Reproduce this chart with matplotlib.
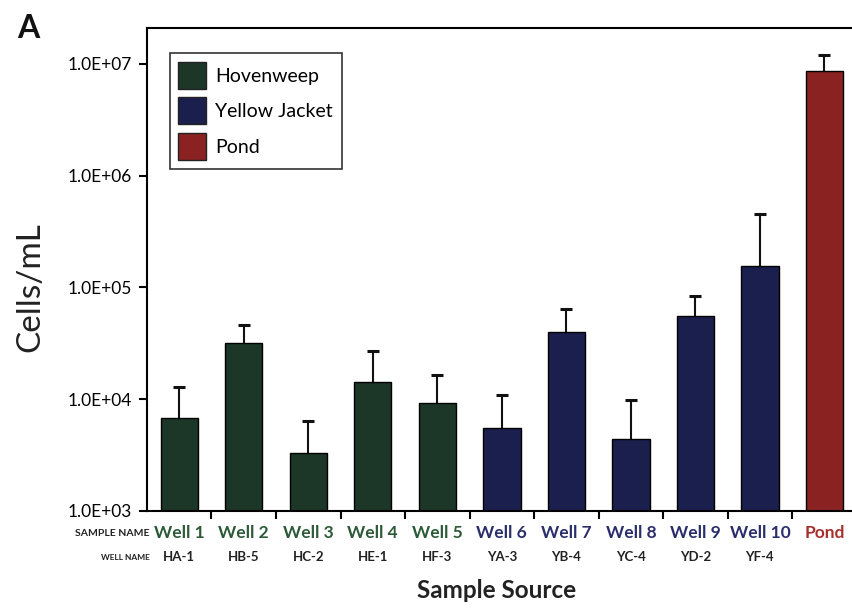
import numpy as np
import matplotlib.pyplot as plt
from matplotlib.patches import Patch
import matplotlib.transforms as mtransforms

plt.rcParams['font.family'] = ['Lato', 'DejaVu Sans']

# data
sample_names = ['Well 1', 'Well 2', 'Well 3', 'Well 4', 'Well 5', 'Well 6',
                'Well 7', 'Well 8', 'Well 9', 'Well 10', 'Pond']
well_names = ['HA-1', 'HB-5', 'HC-2', 'HE-1', 'HF-3', 'YA-3',
              'YB-4', 'YC-4', 'YD-2', 'YF-4', '']
groups = ['Hovenweep'] * 5 + ['Yellow Jacket'] * 5 + ['Pond']
cells = [6.7e3, 3.15e4, 3.3e3, 1.41e4, 9.3e3, 5.5e3,
         3.96e4, 4.36e3, 5.5e4, 1.54e5, 8.7e6]
err_top = [1.29e4, 4.57e4, 6.35e3, 2.71e4, 1.64e4, 1.09e4,
           6.35e4, 9.9e3, 8.4e4, 4.53e5, 1.2e7]

bar_col = {'Hovenweep': '#1c3627', 'Yellow Jacket': '#1b1f4d', 'Pond': '#8a2222'}
txt_col = {'Hovenweep': '#2d5a38', 'Yellow Jacket': '#2a2e6b', 'Pond': '#a8302c'}

cells = np.array(cells)
err_top = np.array(err_top)
x = np.arange(len(cells))

fig = plt.figure(figsize=(8.53, 6.08), dpi=100)
ax = fig.add_axes([0.1723, 0.160, 0.832, 0.794])

ax.bar(x, cells, width=0.58, color=[bar_col[g] for g in groups],
       edgecolor='black', linewidth=1.0, zorder=2)
eb = ax.errorbar(x, cells, yerr=[np.zeros_like(cells), err_top - cells], fmt='none',
                 ecolor='#111111', elinewidth=1.5, capsize=4, capthick=2.2, zorder=3)
# only the upper cap is shown
eb[1][0].set_visible(False)

ax.set_yscale('log')
ax.set_ylim(1e3, 2.1e7)
ax.set_xlim(-0.5, len(cells) - 0.5)
ax.set_yticks([1e3, 1e4, 1e5, 1e6, 1e7])
ax.set_yticklabels(['1.0E+03', '1.0E+04', '1.0E+05', '1.0E+06', '1.0E+07'])
ax.yaxis.set_minor_locator(plt.NullLocator())
ax.set_xticks(x[:-1] + 0.5)
ax.set_xticklabels([])
ax.tick_params(axis='y', direction='out', length=6, width=1.5, labelsize=12.5, pad=5)
ax.tick_params(axis='x', direction='out', length=6, width=1.5)
for s in ax.spines.values():
    s.set_linewidth(1.5)

trans = mtransforms.blended_transform_factory(ax.transData, fig.transFigure)
for i in range(len(cells)):
    ax.text(x[i], 1 - 533 / 608, sample_names[i], transform=trans, ha='center',
            va='center', fontsize=12.5, fontweight='bold', color=txt_col[groups[i]])
    ax.text(x[i], 1 - 557 / 608, well_names[i], transform=trans, ha='center',
            va='center', fontsize=9.5, fontweight='bold', color='#222222')

fig.text(150 / 853, 1 - 534 / 608, 'SAMPLE NAME', ha='right', va='center',
         fontsize=7.5, fontweight='bold', color='#222222')
fig.text(150 / 853, 1 - 557 / 608, 'WELL NAME', ha='right', va='center',
         fontsize=6, fontweight='bold', color='#222222')

fig.text(497 / 853, 1 - 590 / 608, 'Sample Source', ha='center', va='center',
         fontsize=17.5, fontweight='bold', color='#222222')
fig.text(30 / 853, 1 - 287 / 608, 'Cells/mL', ha='center', va='center',
         rotation=90, fontsize=24, color='#222222')
fig.text(17 / 853, 1 - 28 / 608, 'A', ha='left', va='center',
         fontsize=23, fontweight='bold', color='#111111')

handles = [Patch(facecolor=bar_col[g], edgecolor='#222222', label=g)
           for g in ['Hovenweep', 'Yellow Jacket', 'Pond']]
leg = ax.legend(handles=handles, loc='upper left', bbox_to_anchor=(0.032, 0.948),
                fontsize=14, frameon=True, fancybox=False, edgecolor='black',
                handlelength=1.4, handleheight=1.75, borderpad=0.45, labelspacing=0.45,
                handletextpad=0.5, borderaxespad=0)
leg.get_frame().set_linewidth(1.2)

fig.savefig('out.png', dpi=100)
